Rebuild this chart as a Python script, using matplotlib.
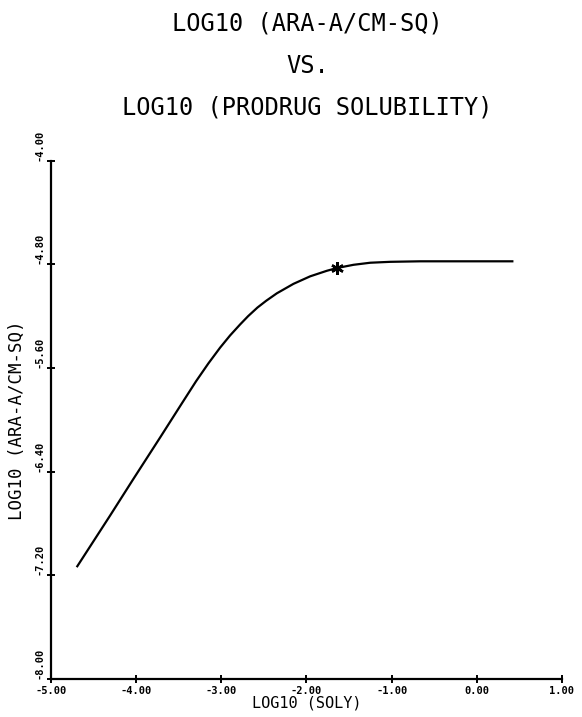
import matplotlib
matplotlib.use("Agg")
import matplotlib.pyplot as plt

# curve
log_soly = [-4.691, -4.307, -4.033, -3.719, -3.464, -3.296, -3.152, -3.014,
            -2.897, -2.779, -2.685, -2.576, -2.474, -2.348, -2.153, -1.957,
            -1.760, -1.643, -1.448, -1.251, -1.016, -0.664, 0.417]
log_flux = [-7.130, -6.740, -6.457, -6.137, -5.874, -5.702, -5.565, -5.443,
            -5.349, -5.264, -5.200, -5.134, -5.082, -5.024, -4.951, -4.893,
            -4.850, -4.829, -4.804, -4.788, -4.781, -4.777, -4.777]

# marked point
star_x = [-1.643]
star_y = [-4.829]

x_ticks = [-5.0, -4.0, -3.0, -2.0, -1.0, 0.0, 1.0]
y_ticks = [-8.0, -7.2, -6.4, -5.6, -4.8, -4.0]

mono = "DejaVu Sans Mono"

fig = plt.figure(figsize=(5.82, 7.17), dpi=100)
ax = fig.add_axes([0.0876, 0.053, 0.878, 0.723])

ax.plot(log_soly, log_flux, color="black", lw=1.6, solid_joinstyle="round")
ax.plot(star_x, star_y, marker=(6, 2, 0), color="black", ms=9, mew=1.8, ls="none")

ax.set_xlim(-5.0, 1.0)
ax.set_ylim(-8.0, -4.0)
for s in ["top", "right"]:
    ax.spines[s].set_visible(False)
for s in ["left", "bottom"]:
    ax.spines[s].set_linewidth(1.6)

ax.set_xticks(x_ticks)
ax.set_yticks(y_ticks)
ax.tick_params(direction="inout", length=6, width=1.4, pad=2)
ax.set_xticklabels([f"{v:.2f}" for v in x_ticks], fontsize=7.5, fontweight="bold",
                   family=mono)
ax.set_yticklabels([f"{v:.2f}" for v in y_ticks], fontsize=7.5, fontweight="bold",
                   family=mono, rotation=90, va="bottom")

ax.set_xlabel("LOG10 (SOLY)", fontsize=11, family=mono, labelpad=0)
ax.set_ylabel("LOG10 (ARA-A/CM-SQ)", fontsize=12.5, family=mono, labelpad=6)

title_lines = ["LOG10 (ARA-A/CM-SQ)", "VS.", "LOG10 (PRODRUG SOLUBILITY)"]
for i, line in enumerate(title_lines):
    fig.text(0.528, 1 - (24 + 42 * i) / 717, line, fontsize=17, family=mono,
             ha="center", va="center")

fig.savefig("out.png", dpi=100)
